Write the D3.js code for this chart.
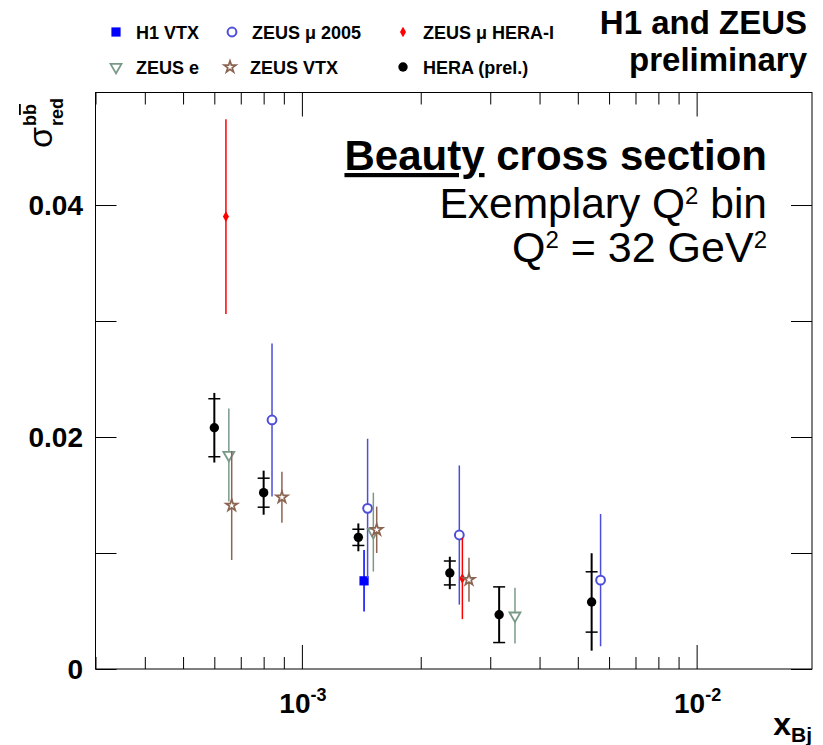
<!DOCTYPE html>
<html>
<head>
<meta charset="utf-8">
<script src="https://cdn.jsdelivr.net/npm/d3@7"></script>
<style>
body { margin: 0; background: #fff; }
text { font-family: "Liberation Sans", Arial, sans-serif; }
</style>
</head>
<body>
<svg id="chart" width="823" height="745"></svg>
<script>
// HERA combination (prel.): total error and inner (uncorrelated) error
var heraX   = [6.0e-4, 8.0e-4, 1.39e-3, 2.37e-3, 3.16e-3, 5.42e-3];
var heraY   = [0.0208, 0.0152, 0.01135, 0.00828, 0.00468, 0.00578];
var heraTot = [0.0030, 0.0019, 0.0012, 0.0014, 0.0024, 0.0042];
var heraUnc = [0.0025, 0.00125, 0.0007, 0.00103, 0.0024, 0.0026];

var h1vtxX   = [1.437e-3];
var h1vtxY   = [0.0076];
var h1vtxErr = [0.00265];

var zmu05X   = [8.4e-4, 1.467e-3, 2.505e-3, 5.71e-3];
var zmu05Y   = [0.02147, 0.01385, 0.01155, 0.00766];
var zmu05Err = [0.0066, 0.0060, 0.0060, 0.0057];

var zmuHX   = [6.42e-4, 2.55e-3];
var zmuHY   = [0.0390, 0.0078];
var zmuHErr = [0.0084, 0.0035];

var zeX   = [6.53e-4, 1.517e-3, 3.466e-3];
var zeY   = [0.01845, 0.0118, 0.0046];
var zeErr = [0.0040, 0.0034, 0.0024];

var zvtxX   = [6.64e-4, 8.9e-4, 1.547e-3, 2.65e-3];
var zvtxY   = [0.0141, 0.0148, 0.0120, 0.0077];
var zvtxErr = [0.0047, 0.0022, 0.0020, 0.0019];

var yTickLabels = [0, 0.02, 0.04];
var xTickLabels = [1e-3, 1e-2];

(function () {
var svg = d3.select("#chart");
var pLeft = 95.5, pRight = 812, pTop = 92.5, pBottom = 669;

var x = d3.scaleLog().domain([3e-4, 0.0196]).range([pLeft, pRight]);
var y = d3.scaleLinear().domain([0, 0.0497]).range([pBottom, pTop]);

function isMajor(v) { return Math.abs(Math.log10(v) - Math.round(Math.log10(v))) < 1e-6; }
var xt = x.ticks();
var xMinor = xt.filter(function(v) { return !isMajor(v); });
var xMajor = xt.filter(isMajor);
var yt = y.ticks(5);

// frame + ticks (ROOT style, ticks inside on all four sides)
svg.append("rect").attr("x", pLeft).attr("y", pTop)
    .attr("width", pRight - pLeft).attr("height", pBottom - pTop)
    .attr("fill", "none").attr("stroke", "#000").attr("stroke-width", 1);

function ticks(axis, tr) {
    var g = svg.append("g").attr("transform", tr).call(axis);
    g.select(".domain").remove();
    g.selectAll("text").remove();
    g.selectAll("line").attr("stroke", "#000");
}
ticks(d3.axisBottom(x).tickValues(xMinor).tickSize(-12), "translate(0," + pBottom + ")");
ticks(d3.axisBottom(x).tickValues(xMajor).tickSize(-24), "translate(0," + pBottom + ")");
ticks(d3.axisTop(x).tickValues(xMinor).tickSize(-12), "translate(0," + pTop + ")");
ticks(d3.axisTop(x).tickValues(xMajor).tickSize(-24), "translate(0," + pTop + ")");
ticks(d3.axisLeft(y).tickValues(yt).tickSize(-21), "translate(" + pLeft + ",0)");
ticks(d3.axisRight(y).tickValues(yt).tickSize(-21), "translate(" + pRight + ",0)");

// tick labels
svg.selectAll(".ylab").data(yTickLabels).enter().append("text")
    .attr("x", 83).attr("y", function(d) { return y(d) + 10; })
    .attr("text-anchor", "end").attr("font-size", 28).attr("font-weight", "bold")
    .text(function(d) { return d === 0 ? "0" : d3.format(".2f")(d); });

xTickLabels.forEach(function(v) {
    var t = svg.append("text").attr("x", x(v) + 1).attr("y", 713)
        .attr("text-anchor", "middle").attr("font-size", 28).attr("font-weight", "bold");
    t.append("tspan").text("10");
    t.append("tspan").attr("font-size", 18).attr("dy", -12).text("-" + Math.round(-Math.log10(v)));
});

// axis titles
var xt2 = svg.append("text").attr("x", 812).attr("y", 735).attr("text-anchor", "end")
    .attr("font-weight", "bold");
xt2.append("tspan").attr("font-size", 32).text("x");
xt2.append("tspan").attr("font-size", 21).attr("dy", 7).text("Bj");

var yl = svg.append("g").attr("transform", "translate(52,148) rotate(-90)");
yl.append("text").attr("x", 0).attr("y", 0).attr("font-size", 34).text("σ");
var sup = yl.append("text").attr("x", 22).attr("y", -16).attr("font-size", 18).attr("font-weight", "bold");
sup.append("tspan").text("b");
sup.append("tspan").style("text-decoration", "overline").text("b");
yl.append("text").attr("x", 22).attr("y", 11).attr("font-size", 18).attr("font-weight", "bold").text("red");

// markers
function marker(g, shape, color, cx, cy) {
    var tr = "translate(" + cx + "," + cy + ")";
    if (shape === "square") {
        g.append("path").attr("d", d3.symbol(d3.symbolSquare, 85)()).attr("transform", tr).attr("fill", color);
    } else if (shape === "circleOpen") {
        g.append("circle").attr("cx", cx).attr("cy", cy).attr("r", 4.4)
            .attr("fill", "#fff").attr("stroke", color).attr("stroke-width", 2);
    } else if (shape === "diamond") {
        g.append("path").attr("d", d3.symbol(d3.symbolDiamond, 32)()).attr("transform", tr).attr("fill", color);
    } else if (shape === "triangleOpen") {
        g.append("path").attr("d", d3.symbol(d3.symbolTriangle, 52)()).attr("transform", tr + " rotate(180)")
            .attr("fill", "#fff").attr("stroke", color).attr("stroke-width", 1.8);
    } else if (shape === "starOpen") {
        g.append("path").attr("d", d3.symbol(d3.symbolStar, 42)()).attr("transform", tr)
            .attr("fill", "#fff").attr("stroke", color).attr("stroke-width", 1.7);
    } else {
        g.append("circle").attr("cx", cx).attr("cy", cy).attr("r", 4.7).attr("fill", color);
    }
}

var series = [
    { name: "H1 VTX", xs: h1vtxX, ys: h1vtxY, es: h1vtxErr, color: "#0000ff", shape: "square" },
    { name: "ZEUS \u03bc 2005", xs: zmu05X, ys: zmu05Y, es: zmu05Err, color: "#4d4ddb", shape: "circleOpen" },
    { name: "ZEUS \u03bc HERA-I", xs: zmuHX, ys: zmuHY, es: zmuHErr, color: "#ff0000", shape: "diamond" },
    { name: "ZEUS e", xs: zeX, ys: zeY, es: zeErr, color: "#7a9a88", shape: "triangleOpen" },
    { name: "ZEUS VTX", xs: zvtxX, ys: zvtxY, es: zvtxErr, color: "#8c6452", shape: "starOpen" }
];

series.forEach(function(s) {
    var g = svg.append("g");
    s.xs.forEach(function(xv, i) {
        g.append("line").attr("x1", x(xv)).attr("x2", x(xv))
            .attr("y1", y(s.ys[i] + s.es[i])).attr("y2", y(s.ys[i] - s.es[i]))
            .attr("stroke", s.color).attr("stroke-width", 1.5);
        marker(g, s.shape, s.color, x(xv), y(s.ys[i]));
    });
});

// HERA: full line for total error, crossbars at the inner error
var hg = svg.append("g");
heraX.forEach(function(xv, i) {
    var cx = x(xv);
    hg.append("line").attr("x1", cx).attr("x2", cx)
        .attr("y1", y(heraY[i] + heraTot[i])).attr("y2", y(heraY[i] - heraTot[i]))
        .attr("stroke", "#000").attr("stroke-width", 2);
    [heraY[i] + heraUnc[i], heraY[i] - heraUnc[i]].forEach(function(v) {
        hg.append("line").attr("x1", cx - 6).attr("x2", cx + 6)
            .attr("y1", y(v)).attr("y2", y(v)).attr("stroke", "#000").attr("stroke-width", 1.5);
    });
    marker(hg, "dot", "#000", cx, y(heraY[i]));
});

// legend
var legendItems = [
    { name: "H1 VTX", shape: "square", color: "#0000ff", px: 116, py: 32 },
    { name: "ZEUS \u03bc 2005", shape: "circleOpen", color: "#4d4ddb", px: 232, py: 32 },
    { name: "ZEUS \u03bc HERA-I", shape: "diamond", color: "#ff0000", px: 403, py: 32 },
    { name: "ZEUS e", shape: "triangleOpen", color: "#7a9a88", px: 116, py: 67 },
    { name: "ZEUS VTX", shape: "starOpen", color: "#8c6452", px: 230, py: 67 },
    { name: "HERA (prel.)", shape: "dot", color: "#000", px: 403, py: 67 }
];
var lg = svg.append("g");
legendItems.forEach(function(d) {
    marker(lg, d.shape, d.color, d.px, d.py);
    lg.append("text").attr("x", d.px + 20).attr("y", d.py + 6.5)
        .attr("font-size", 18).attr("font-weight", "bold").text(d.name);
});

// header
svg.append("text").attr("x", 807).attr("y", 34).attr("text-anchor", "end")
    .attr("font-size", 33).attr("font-weight", "bold").text("H1 and ZEUS");
svg.append("text").attr("x", 807).attr("y", 71).attr("text-anchor", "end")
    .attr("font-size", 33).attr("font-weight", "bold").text("preliminary");

var t1 = svg.append("text").attr("x", 767).attr("y", 170).attr("text-anchor", "end")
    .attr("font-size", 42).attr("font-weight", "bold");
t1.append("tspan").style("text-decoration", "underline").text("Beauty");
t1.append("tspan").text(" cross section");

var t2 = svg.append("text").attr("x", 767).attr("y", 218).attr("text-anchor", "end").attr("font-size", 42.5);
t2.append("tspan").text("Exemplary Q");
t2.append("tspan").attr("font-size", 24).attr("dy", -14).text("2");
t2.append("tspan").attr("dy", 14).text(" bin");

var t3 = svg.append("text").attr("x", 767).attr("y", 262).attr("text-anchor", "end").attr("font-size", 43);
t3.append("tspan").text("Q");
t3.append("tspan").attr("font-size", 24).attr("dy", -14).text("2");
t3.append("tspan").attr("dy", 14).text(" = 32 GeV");
t3.append("tspan").attr("font-size", 24).attr("dy", -14).text("2");
})();
</script>
</body>
</html>
